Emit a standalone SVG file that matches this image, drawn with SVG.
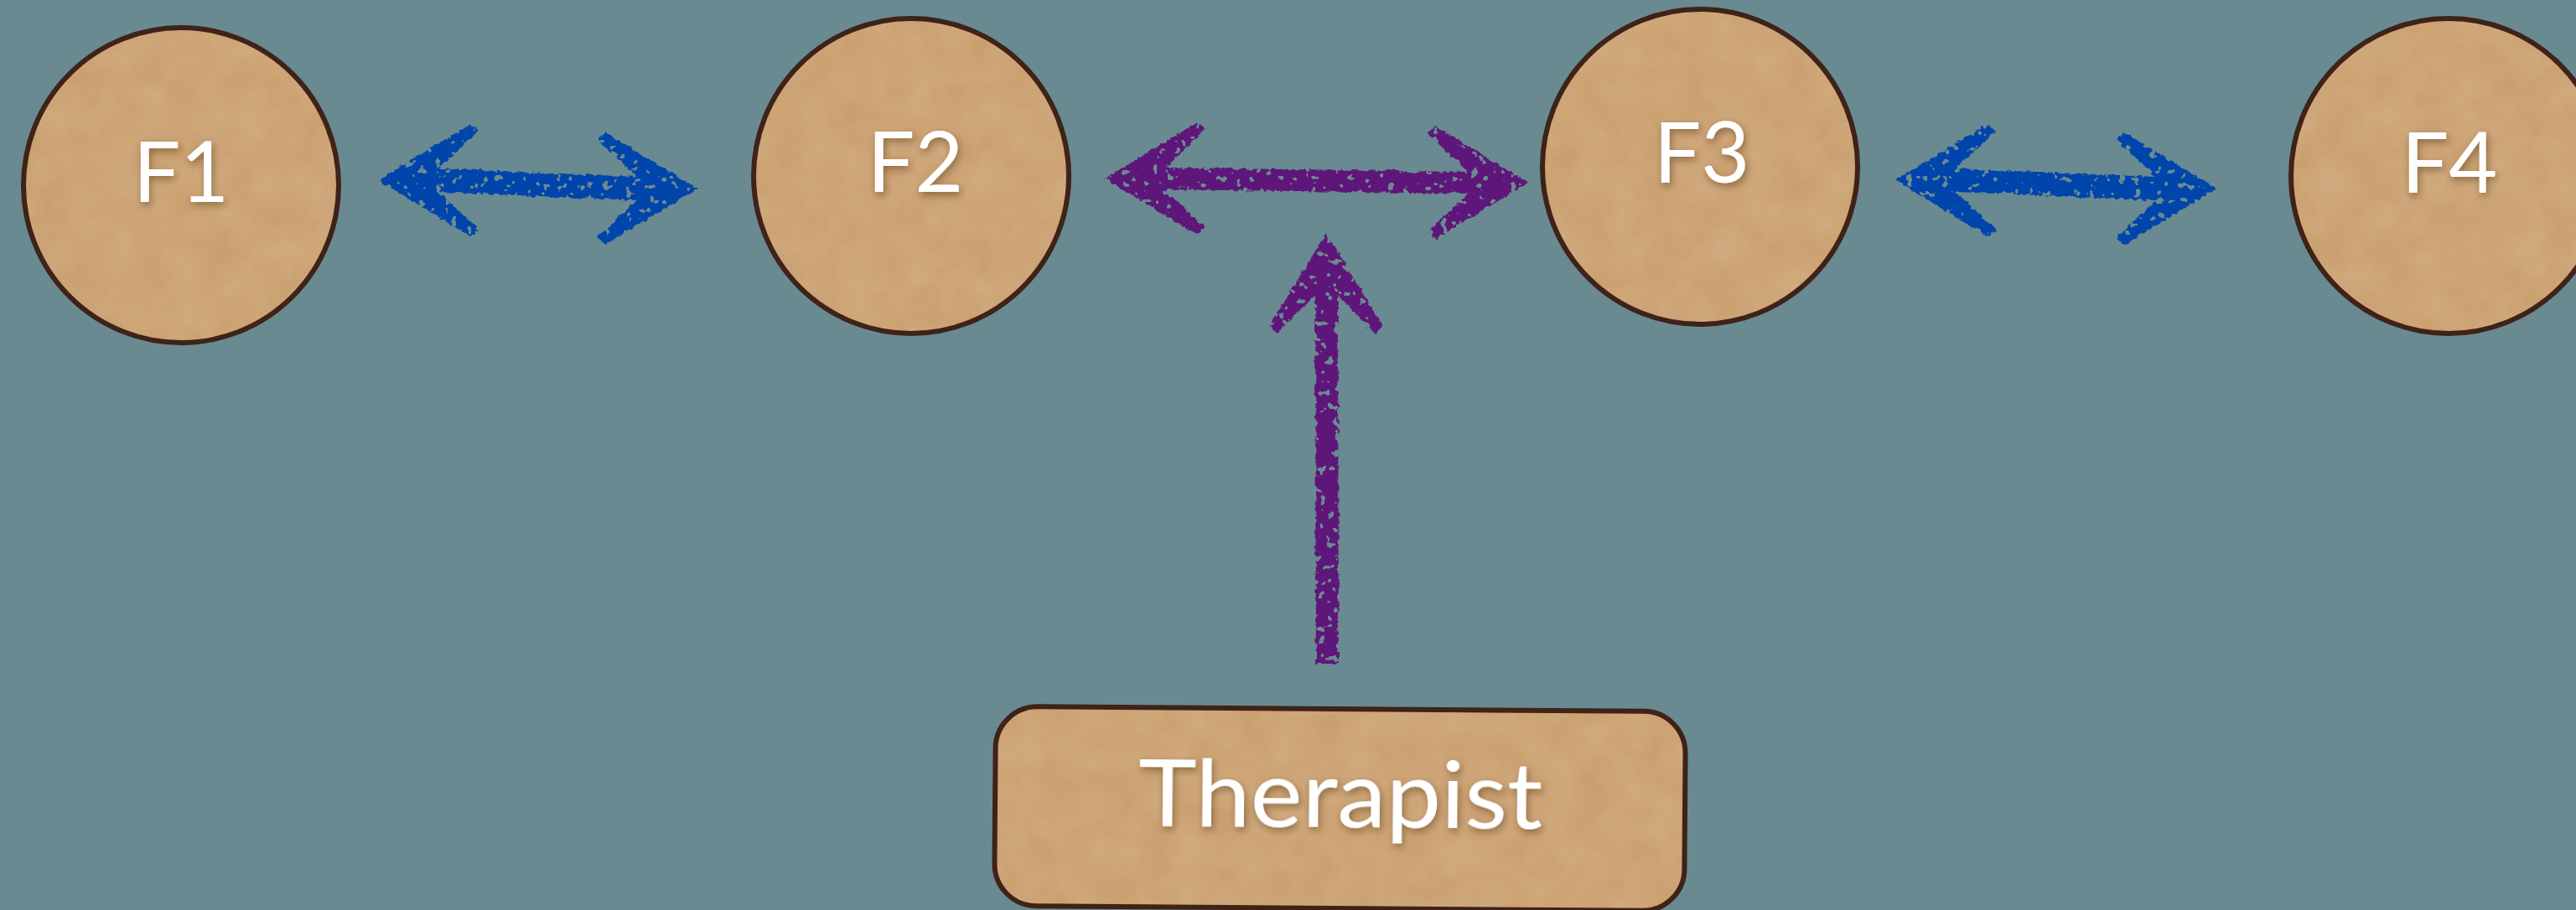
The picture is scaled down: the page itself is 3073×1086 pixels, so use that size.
<svg xmlns="http://www.w3.org/2000/svg" width="3073" height="1086" viewBox="0 0 3073 1086">
  <style>
    .fillp { fill: #C99D6B; stroke: none; filter: url(#paper); }
    .outline { fill: none; stroke: #3F2218; stroke-width: 6; }
    .label { fill: #FFFFFF; font-family: Lato, "Open Sans", "Liberation Sans", sans-serif; font-weight: 400; text-anchor: middle; filter: url(#shadow); }
    .blue { fill: #0445AB; filter: url(#rough); }
    .purple { fill: #5E177A; filter: url(#rough); }
  </style>
  <defs>
    <filter id="shadow" x="-20%" y="-20%" width="140%" height="140%">
      <feDropShadow dx="2" dy="4" stdDeviation="4" flood-color="#3a2410" flood-opacity="0.45"/>
    </filter>
    <filter id="rough" x="-5%" y="-10%" width="110%" height="120%">
      <feTurbulence type="fractalNoise" baseFrequency="0.18" numOctaves="2" seed="3" result="n"/>
      <feDisplacementMap in="SourceGraphic" in2="n" scale="6" xChannelSelector="R" yChannelSelector="G" result="d"/>
      <feTurbulence type="fractalNoise" baseFrequency="0.11" numOctaves="2" seed="11" result="n2"/>
      <feColorMatrix in="n2" type="matrix" values="0 0 0 0 0  0 0 0 0 0  0 0 0 0 0  -30 0 0 0 20.5" result="mask"/>
      <feComposite in="d" in2="mask" operator="in"/>
    </filter>
    <filter id="paper" x="0" y="0" width="100%" height="100%">
      <feTurbulence type="fractalNoise" baseFrequency="0.025" numOctaves="3" seed="5" result="t"/>
      <feColorMatrix in="t" type="matrix" values="0 0 0 0 0.83  0 0 0 0 0.67  0 0 0 0 0.47  0 0 0 0.22 0" result="tc"/>
      <feComposite in="tc" in2="SourceGraphic" operator="atop"/>
    </filter>
  </defs>

  <rect x="0" y="0" width="3073" height="1086" fill="#698A91"/>

  <g id="connectors">
    <path id="arrow-f1-f2" class="blue" d="M451,215 L561,148 L571,156 L523,201 L760,211 L712,166 L722,158 L832,225 L722,292 L712,284 L760,239 L523,229 L571,274 L561,282 Z"/>
    <path id="arrow-f2-f3" class="purple" d="M1318,213 L1428,146 L1438,154 L1390,200 L1751,205 L1703,159 L1713,151 L1823,218 L1713,285 L1703,277 L1751,231 L1390,226 L1438,272 L1428,280 Z"/>
    <path id="arrow-therapist" class="purple" d="M1582,278 L1649,388 L1641,398 L1596,352 L1597,792 L1570,792 L1569,352 L1523,398 L1515,388 Z"/>
    <path id="arrow-f3-f4" class="blue" d="M2261,215 L2371,148 L2381,156 L2333,201 L2572,211 L2524,166 L2534,158 L2644,225 L2534,292 L2524,284 L2572,239 L2333,229 L2381,274 L2371,282 Z"/>
  </g>

  <g id="node-f1">
    <circle class="fillp" cx="216" cy="221" r="188"/>
    <circle class="outline" cx="216" cy="221" r="188"/>
    <text class="label" x="216" y="241" font-size="100">F1</text>
  </g>
  <g id="node-f2">
    <circle class="fillp" cx="1087" cy="210" r="188"/>
    <circle class="outline" cx="1087" cy="210" r="188"/>
    <text class="label" x="1092" y="229" font-size="100">F2</text>
  </g>
  <g id="node-f3">
    <circle class="fillp" cx="2028" cy="199" r="188"/>
    <circle class="outline" cx="2028" cy="199" r="188"/>
    <text class="label" x="2030" y="218" font-size="100">F3</text>
  </g>
  <g id="node-f4">
    <circle class="fillp" cx="2921" cy="210" r="188"/>
    <circle class="outline" cx="2921" cy="210" r="188"/>
    <text class="label" x="2922" y="230" font-size="100">F4</text>
  </g>
  <g id="node-therapist" transform="rotate(0.45 1598 965)">
    <rect class="fillp" x="1187" y="846" width="823" height="238" rx="50" ry="50"/>
    <rect class="outline" x="1187" y="846" width="823" height="238" rx="50" ry="50"/>
    <text class="label" x="1599" y="987" font-size="110" textLength="482" lengthAdjust="spacingAndGlyphs">Therapist</text>
  </g>
</svg>
